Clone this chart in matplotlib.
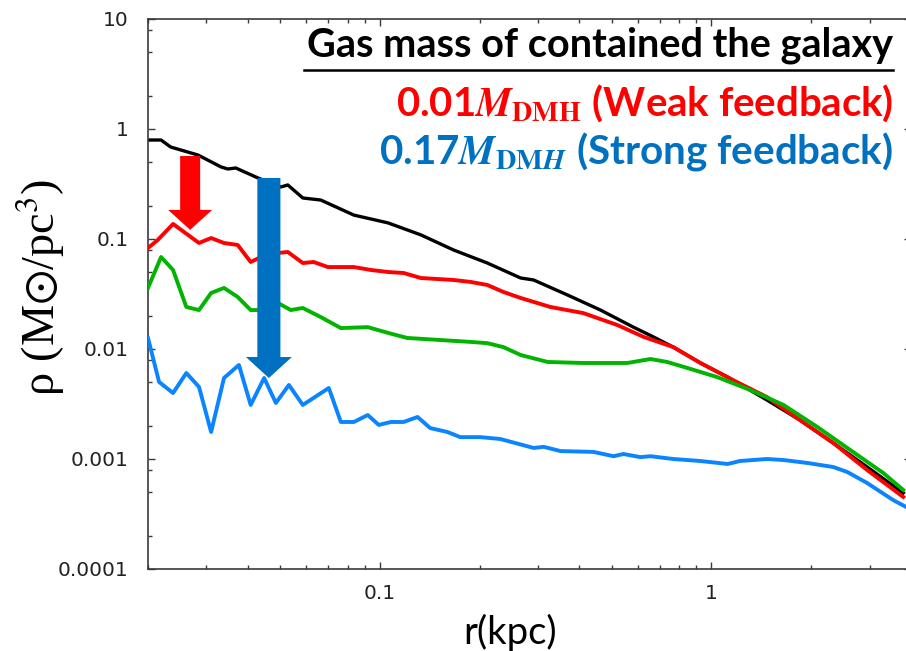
import matplotlib
matplotlib.use('Agg')
import matplotlib.pyplot as plt
from matplotlib.ticker import FixedLocator, FixedFormatter, LogLocator, NullFormatter
from matplotlib.lines import Line2D

W, H = 906, 651

# ---------------- data ----------------
black_r = [0.020, 0.0219, 0.0234, 0.0283, 0.0332, 0.0348, 0.0368, 0.0429, 0.0503, 0.0528,
           0.0586, 0.0664, 0.0835, 0.106, 0.133, 0.167, 0.211, 0.266, 0.291, 0.368, 0.463,
           0.582, 0.668, 0.768, 0.927, 1.12, 1.47, 1.85, 2.33, 2.95, 3.79]
black_rho = [0.794, 0.794, 0.686, 0.580, 0.452, 0.433, 0.442, 0.359, 0.297, 0.310,
             0.236, 0.226, 0.165, 0.140, 0.109, 0.0794, 0.0605, 0.0442, 0.0424, 0.0310, 0.0226,
             0.0158, 0.0129, 0.0104, 0.00746, 0.00556, 0.00344, 0.00226, 0.00140, 0.000846, 0.000491]

red_r = [0.020, 0.0214, 0.0238, 0.0264, 0.0285, 0.0310, 0.0339, 0.0373, 0.0408, 0.0438,
         0.0493, 0.0528, 0.0586, 0.0632, 0.0697, 0.0835, 0.0940, 0.106, 0.118, 0.133,
         0.167, 0.188, 0.211, 0.236, 0.266, 0.327, 0.411, 0.521, 0.624, 0.768, 0.927,
         1.16, 1.47, 1.85, 2.33, 2.95, 3.79]
red_rho = [0.0828, 0.0980, 0.137, 0.109, 0.0920, 0.102, 0.0920, 0.0882, 0.0618, 0.0686,
           0.0746, 0.0762, 0.0605, 0.0618, 0.0556, 0.0556, 0.0523, 0.0501, 0.0491, 0.0442,
           0.0424, 0.0407, 0.0382, 0.0330, 0.0291, 0.0241, 0.0212, 0.0165, 0.0129, 0.0104, 0.00746,
           0.00523, 0.00366, 0.00226, 0.00140, 0.000794, 0.000452]

green_r = [0.020, 0.0219, 0.0238, 0.0261, 0.0285, 0.0310, 0.0339, 0.0373, 0.0408, 0.0448,
           0.0493, 0.0539, 0.0586, 0.0664, 0.0763, 0.0920, 0.106, 0.121, 0.150, 0.188,
           0.211, 0.236, 0.266, 0.321, 0.411, 0.558, 0.655, 0.736, 0.847, 1.04, 1.31,
           1.65, 2.09, 2.62, 3.30, 3.79]
green_rho = [0.0359, 0.0686, 0.0523, 0.0241, 0.0226, 0.0323, 0.0359, 0.0297, 0.0226, 0.0226,
             0.0262, 0.0226, 0.0236, 0.0195, 0.0155, 0.0158, 0.0140, 0.0126, 0.0121, 0.0116,
             0.0113, 0.0104, 0.00882, 0.00762, 0.00746, 0.00746, 0.00811, 0.00762, 0.00672, 0.00556, 0.00424,
             0.00310, 0.00195, 0.00121, 0.000746, 0.000523]

blue_r = [0.020, 0.0216, 0.0238, 0.0261, 0.0285, 0.0310, 0.0339, 0.0376, 0.0408, 0.0448,
          0.0486, 0.0532, 0.0586, 0.0702, 0.0763, 0.0835, 0.0920, 0.0993, 0.108, 0.118,
          0.130, 0.142, 0.160, 0.175, 0.201, 0.231, 0.291, 0.312, 0.351, 0.441,
          0.507, 0.543, 0.611, 0.655, 0.768, 0.927, 1.12, 1.22, 1.47, 1.65,
          1.95, 2.33, 2.57, 2.95, 3.53, 3.87]
blue_rho = [0.0126, 0.00501, 0.00398, 0.00605, 0.00452, 0.00176, 0.00545, 0.00716, 0.00310, 0.00545,
            0.00323, 0.00471, 0.00310, 0.00442, 0.00217, 0.00217, 0.00251, 0.00204, 0.00217, 0.00217,
            0.00241, 0.00191, 0.00176, 0.00158, 0.00158, 0.00152, 0.00126, 0.00129, 0.00118, 0.00116,
            0.00106, 0.00111, 0.00104, 0.00106, 0.00100, 0.000959, 0.000901, 0.000959, 0.00100, 0.000979,
            0.000920, 0.000846, 0.000762, 0.000605, 0.000424, 0.000366]

x_ticks = [0.1, 1]
x_tick_labels = ['0.1', '1']
y_ticks = [1e-4, 1e-3, 1e-2, 1e-1, 1, 10]
y_tick_labels = ['0.0001', '0.001', '0.01', '0.1', '1', '10']

# arrows (annotation positions, data units)
red_arrow_x, red_arrow_tail, red_arrow_tip = 0.0268, 0.568, 0.121
blue_arrow_x, blue_arrow_tail, blue_arrow_tip = 0.0463, 0.359, 0.00545

title_text = 'Gas mass of contained the galaxy'
weak_text = r'0.01$\mathbfit{M}_{\mathbf{DMH}}$ (Weak feedback)'
strong_text = r'0.17$\mathbfit{M}_{\mathbf{DM}\mathbfit{H}}$ (Strong feedback)'

# ---------------- figure ----------------
plt.rcParams['mathtext.fontset'] = 'stix'
fig = plt.figure(figsize=(W / 100, H / 100), dpi=100)
ax = fig.add_axes([148 / W, (H - 569) / H, (911 - 148) / W, (569 - 19) / H])
ax.set_xscale('log')
ax.set_yscale('log')

ax.plot(black_r, black_rho, color='black', lw=2.4, zorder=2)
ax.plot(red_r, red_rho, color='#FF0000', lw=2.8, zorder=3)
ax.plot(green_r, green_rho, color='#00B400', lw=2.8, zorder=4)
ax.plot(blue_r, blue_rho, color='#0A84FF', lw=2.8, zorder=5)

ax.set_xlim(0.02, 4)
ax.set_ylim(1e-4, 10)

ax.xaxis.set_major_locator(FixedLocator(x_ticks))
ax.xaxis.set_major_formatter(FixedFormatter(x_tick_labels))
ax.xaxis.set_minor_locator(LogLocator(base=10, subs=range(2, 10), numticks=20))
ax.xaxis.set_minor_formatter(NullFormatter())
ax.yaxis.set_major_locator(FixedLocator(y_ticks))
ax.yaxis.set_major_formatter(FixedFormatter(y_tick_labels))
ax.yaxis.set_minor_locator(LogLocator(base=10, subs=(2, 5, 8), numticks=20))
ax.yaxis.set_minor_formatter(NullFormatter())

spine_col = '#3a3a3a'
for s in ax.spines.values():
    s.set_color(spine_col)
    s.set_linewidth(1.2)
ax.tick_params(which='both', direction='in', top=True, right=True, color=spine_col,
               labelcolor='#222222', labelsize=14.5, width=1.0)
ax.tick_params(which='major', length=5)
ax.tick_params(which='minor', length=3)
ax.tick_params(axis='y', which='major', pad=14)
ax.tick_params(axis='x', which='major', pad=11)
for lab in ax.get_xticklabels() + ax.get_yticklabels():
    lab.set_family('DejaVu Sans')

# arrows
ax.annotate('', xy=(red_arrow_x, red_arrow_tip), xytext=(red_arrow_x, red_arrow_tail),
            arrowprops=dict(arrowstyle='simple,head_length=14.4,head_width=31.7,tail_width=14.4',
                            mutation_scale=1, color='#FF0000', shrinkA=0, shrinkB=0, lw=0),
            zorder=10)
ax.annotate('', xy=(blue_arrow_x, blue_arrow_tip), xytext=(blue_arrow_x, blue_arrow_tail),
            arrowprops=dict(arrowstyle='simple,head_length=15.1,head_width=33.1,tail_width=16.6',
                            mutation_scale=1, color='#0070C0', shrinkA=0, shrinkB=0, lw=0),
            zorder=10)

# texts
t1 = fig.text(893 / W, 1 - 57 / H, title_text, ha='right', va='baseline',
              fontsize=22, fontweight='bold', family='Lato', color='black')
t2 = fig.text(893 / W, 1 - 116 / H, weak_text, ha='right', va='baseline',
              fontsize=26, fontweight='bold', family='Lato', color='#FF0000')
t3 = fig.text(893 / W, 1 - 163 / H, strong_text, ha='right', va='baseline',
              fontsize=26, fontweight='bold', family='Lato', color='#0070C0')
xl = fig.text(510 / W, 1 - 632 / H, 'r(kpc)', ha='center', va='center',
              fontsize=26, family='Lato', color='black')
yl = fig.text(41 / W, 1 - 287 / H, r'ρ (M${\odot}$/pc$^{3}$)', ha='center', va='center',
              rotation=90, fontsize=26, family='Liberation Serif', color='black')

renderer = fig.canvas.get_renderer()


def fit(t, target, vertical=False):
    for _ in range(3):
        bb = t.get_window_extent(renderer)
        cur = bb.height if vertical else bb.width
        t.set_fontsize(t.get_fontsize() * target / cur)


fit(t1, 586)
fit(t2, 497)
fit(t3, 514)
fit(xl, 94)
fit(yl, 217, vertical=True)

fig.add_artist(Line2D([304 / W, 893 / W], [1 - 70 / H, 1 - 70 / H], transform=fig.transFigure,
                      color='black', lw=1.8))

fig.savefig('out.png', dpi=100)
